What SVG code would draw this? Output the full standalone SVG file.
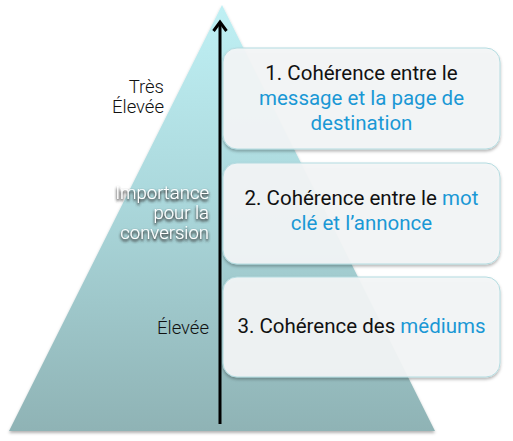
<svg xmlns="http://www.w3.org/2000/svg" width="513" height="441" viewBox="0 0 513 441">
<defs>
<linearGradient id="tri" x1="0" y1="0" x2="0" y2="1">
<stop offset="0" stop-color="#bff0f4"/>
<stop offset="0.45" stop-color="#abd8dc"/>
<stop offset="1" stop-color="#8fb3b5"/>
</linearGradient>
<filter id="sh" x="-10%" y="-10%" width="120%" height="130%">
<feDropShadow dx="0" dy="2" stdDeviation="1.5" flood-color="#000" flood-opacity="0.3"/>
</filter>
<filter id="tsh" x="-20%" y="-30%" width="140%" height="180%">
<feGaussianBlur in="SourceAlpha" stdDeviation="1.6" result="b"/>
<feOffset in="b" dx="0" dy="1.5" result="o"/>
<feComponentTransfer in="o" result="s"><feFuncA type="linear" slope="1.6"/></feComponentTransfer>
<feFlood flood-color="#333"/>
<feComposite in2="s" operator="in" result="c"/>
<feMerge><feMergeNode in="c"/><feMergeNode in="SourceGraphic"/></feMerge>
</filter>
<marker id="ah" markerWidth="16" markerHeight="16" refX="12" refY="8" orient="auto" markerUnits="userSpaceOnUse" viewBox="0 0 16 16">
<path d="M3,1.5 L12,8 L3,14.5" fill="none" stroke="#000" stroke-width="3"/>
</marker>
</defs>
<style>
.box{fill:#f4f6f7;fill-opacity:0.92;stroke:#b4dbe0;stroke-width:1}
.t{font-family:Roboto,"Liberation Sans",sans-serif;font-size:20.5px;fill:#111;text-anchor:middle}
.b{fill:#1a98d5}
.lab{font-family:Roboto,"Liberation Sans",sans-serif;font-weight:300;font-size:18.5px;fill:#111;text-anchor:end}
.w{fill:#fff;filter:url(#tsh)}
</style>
<g id="pyramid">
<polygon points="222,5 435,431 9,431" fill="url(#tri)" filter="url(#sh)"/>
</g>
<g id="connectors">
<line x1="220" y1="424" x2="220" y2="22" stroke="#000" stroke-width="3" marker-end="url(#ah)"/>
</g>
<g id="box1">
<rect class="box" x="223" y="48" width="277" height="101" rx="14" filter="url(#sh)"/>
<text class="t" x="361.5" y="80">1. Cohérence entre le</text>
<text class="t b" x="361.5" y="105">message et la page de</text>
<text class="t b" x="361.5" y="130">destination</text>
</g>
<g id="box2">
<rect class="box" x="223" y="163" width="277" height="101" rx="14" filter="url(#sh)"/>
<text class="t" x="361.5" y="205">2. Cohérence entre le <tspan class="b">mot</tspan></text>
<text class="t b" x="361.5" y="230">clé et l’annonce</text>
</g>
<g id="box3">
<rect class="box" x="223" y="277" width="277" height="100" rx="14" filter="url(#sh)"/>
<text class="t" x="361.5" y="333">3. Cohérence des <tspan class="b">médiums</tspan></text>
</g>
<g id="labels">
<text class="lab" x="164" y="93">Très</text>
<text class="lab" x="164" y="113">Élevée</text>
<text class="lab w" x="209" y="199">Importance</text>
<text class="lab w" x="209" y="219">pour la</text>
<text class="lab w" x="209" y="239">conversion</text>
<text class="lab" x="209" y="334">Élevée</text>
</g>
</svg>
